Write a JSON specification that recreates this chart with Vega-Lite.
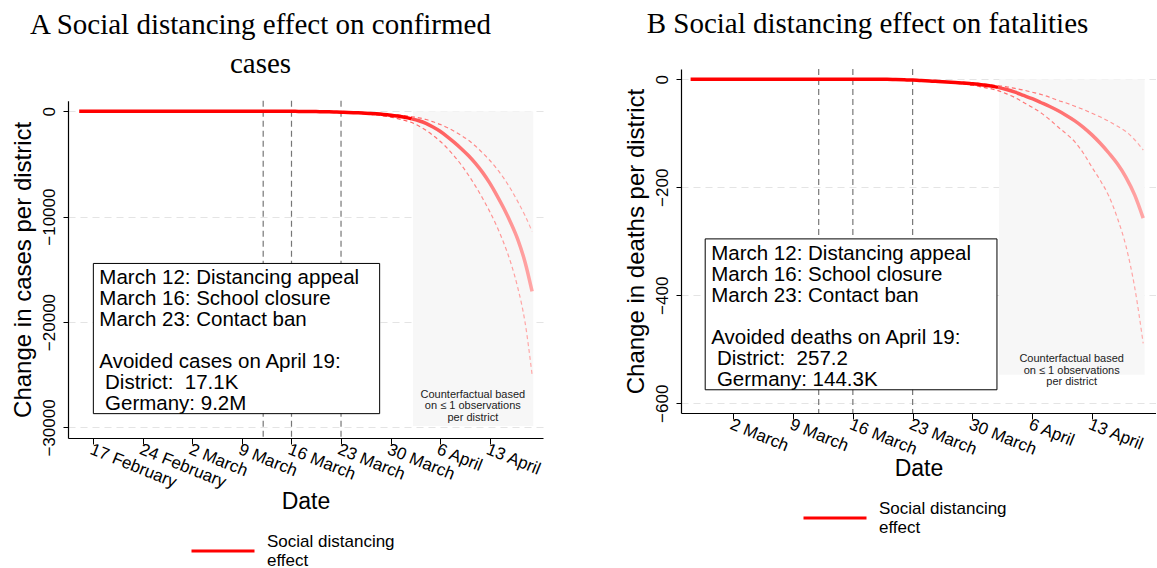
{
  "$schema": "https://vega.github.io/schema/vega-lite/v6.json",
  "background": "white",
  "padding": {"left": 10, "top": 9, "right": 0, "bottom": 0},
  "config": {
    "view": {"stroke": null},
    "font": "Liberation Sans",
    "title": {"font": "Liberation Serif", "fontSize": 29, "fontWeight": "normal", "color": "#000", "anchor": "middle", "frame": "group", "lineHeight": 39},
    "axis": {"domainColor": "#000", "tickColor": "#000", "labelColor": "#000", "titleColor": "#000", "labelFont": "Liberation Sans", "titleFont": "Liberation Sans", "titleFontWeight": "normal", "labelFlush": false, "labelOverlap": false, "labelBound": false, "domainWidth": 1.2, "tickWidth": 1}
  },
  "datasets": {
    "casesA": [
      {"date": "2020-02-15T00:00", "effect": 0},
      {"date": "2020-02-22T00:00", "effect": 0},
      {"date": "2020-02-29T00:00", "effect": 0},
      {"date": "2020-03-07T00:00", "effect": 0},
      {"date": "2020-03-14T00:00", "effect": 0},
      {"date": "2020-03-15T00:00", "effect": -5},
      {"date": "2020-03-16T00:00", "effect": -10},
      {"date": "2020-03-17T00:00", "effect": -15},
      {"date": "2020-03-18T00:00", "effect": -20},
      {"date": "2020-03-19T00:00", "effect": -30},
      {"date": "2020-03-20T00:00", "effect": -40},
      {"date": "2020-03-21T00:00", "effect": -55},
      {"date": "2020-03-22T00:00", "effect": -70},
      {"date": "2020-03-23T00:00", "effect": -90},
      {"date": "2020-03-24T00:00", "effect": -110, "upper": -95, "lower": -130},
      {"date": "2020-03-25T00:00", "effect": -140, "upper": -120, "lower": -170},
      {"date": "2020-03-26T00:00", "effect": -170, "upper": -145, "lower": -220},
      {"date": "2020-03-27T00:00", "effect": -205, "upper": -175, "lower": -280},
      {"date": "2020-03-28T00:00", "effect": -245, "upper": -210, "lower": -350},
      {"date": "2020-03-29T00:00", "effect": -300, "upper": -250, "lower": -440},
      {"date": "2020-03-30T00:00", "effect": -370, "upper": -300, "lower": -560},
      {"date": "2020-03-31T00:00", "effect": -460, "upper": -360, "lower": -700},
      {"date": "2020-04-01T00:00", "effect": -570, "upper": -430, "lower": -870},
      {"date": "2020-04-02T00:00", "effect": -720, "upper": -520, "lower": -1070},
      {"date": "2020-04-03T00:00", "effect": -900, "upper": -630, "lower": -1400},
      {"date": "2020-04-04T00:00", "effect": -1150, "upper": -780, "lower": -1800},
      {"date": "2020-04-05T00:00", "effect": -1500, "upper": -1000, "lower": -2300},
      {"date": "2020-04-06T00:00", "effect": -1900, "upper": -1250, "lower": -2850},
      {"date": "2020-04-07T00:00", "effect": -2400, "upper": -1550, "lower": -3500},
      {"date": "2020-04-08T00:00", "effect": -2950, "upper": -1900, "lower": -4250},
      {"date": "2020-04-09T00:00", "effect": -3550, "upper": -2300, "lower": -5100},
      {"date": "2020-04-10T00:00", "effect": -4200, "upper": -2750, "lower": -6050},
      {"date": "2020-04-11T00:00", "effect": -4950, "upper": -3300, "lower": -7100},
      {"date": "2020-04-12T00:00", "effect": -5800, "upper": -3950, "lower": -8250},
      {"date": "2020-04-13T00:00", "effect": -6800, "upper": -4650, "lower": -9500},
      {"date": "2020-04-14T00:00", "effect": -7950, "upper": -5450, "lower": -10900},
      {"date": "2020-04-15T00:00", "effect": -9200, "upper": -6350, "lower": -12500},
      {"date": "2020-04-16T00:00", "effect": -10600, "upper": -7400, "lower": -14400},
      {"date": "2020-04-17T00:00", "effect": -12200, "upper": -8600, "lower": -16800},
      {"date": "2020-04-18T00:00", "effect": -14300, "upper": -9900, "lower": -20000},
      {"date": "2020-04-19T00:00", "effect": -17100, "upper": -11400, "lower": -25000}
    ],
    "deathsB": [
      {"date": "2020-02-26T00:00", "effect": 0},
      {"date": "2020-03-04T00:00", "effect": 0},
      {"date": "2020-03-11T00:00", "effect": 0},
      {"date": "2020-03-18T00:00", "effect": 0},
      {"date": "2020-03-19T00:00", "effect": 0},
      {"date": "2020-03-20T00:00", "effect": 0},
      {"date": "2020-03-21T00:00", "effect": -0.5},
      {"date": "2020-03-22T00:00", "effect": -1},
      {"date": "2020-03-23T00:00", "effect": -1.5},
      {"date": "2020-03-24T00:00", "effect": -2.5, "upper": -2, "lower": -3},
      {"date": "2020-03-25T00:00", "effect": -3, "upper": -2.5, "lower": -4},
      {"date": "2020-03-26T00:00", "effect": -4, "upper": -3, "lower": -5},
      {"date": "2020-03-27T00:00", "effect": -5, "upper": -4, "lower": -6},
      {"date": "2020-03-28T00:00", "effect": -6, "upper": -5, "lower": -7},
      {"date": "2020-03-29T00:00", "effect": -7, "upper": -6, "lower": -9},
      {"date": "2020-03-30T00:00", "effect": -8.5, "upper": -7, "lower": -11},
      {"date": "2020-03-31T00:00", "effect": -10, "upper": -8.5, "lower": -14},
      {"date": "2020-04-01T00:00", "effect": -12, "upper": -10, "lower": -17},
      {"date": "2020-04-02T00:00", "effect": -15, "upper": -12, "lower": -21},
      {"date": "2020-04-03T00:00", "effect": -19, "upper": -14, "lower": -27},
      {"date": "2020-04-04T00:00", "effect": -24, "upper": -17, "lower": -34},
      {"date": "2020-04-05T00:00", "effect": -30, "upper": -20, "lower": -43},
      {"date": "2020-04-06T00:00", "effect": -36, "upper": -24, "lower": -52},
      {"date": "2020-04-07T00:00", "effect": -43, "upper": -28, "lower": -62},
      {"date": "2020-04-08T00:00", "effect": -50, "upper": -33, "lower": -74},
      {"date": "2020-04-09T00:00", "effect": -58, "upper": -39, "lower": -88},
      {"date": "2020-04-10T00:00", "effect": -67, "upper": -44, "lower": -101},
      {"date": "2020-04-11T00:00", "effect": -77, "upper": -50, "lower": -116},
      {"date": "2020-04-12T00:00", "effect": -89, "upper": -56, "lower": -137},
      {"date": "2020-04-13T00:00", "effect": -103, "upper": -63, "lower": -163},
      {"date": "2020-04-14T00:00", "effect": -119, "upper": -70, "lower": -188},
      {"date": "2020-04-15T00:00", "effect": -137, "upper": -78, "lower": -217},
      {"date": "2020-04-16T00:00", "effect": -157, "upper": -87, "lower": -258},
      {"date": "2020-04-17T00:00", "effect": -182, "upper": -97, "lower": -310},
      {"date": "2020-04-18T00:00", "effect": -214, "upper": -112, "lower": -385},
      {"date": "2020-04-19T00:00", "effect": -257.2, "upper": -131, "lower": -489}
    ]
  },
  "hconcat": [
    {
      "width": 475,
      "height": 369,
      "title": {"text": ["A Social distancing effect on confirmed", "cases"], "dx": -45, "offset": -10.1},
      "layer": [
        {
          "data": {"values": [{"d1": "2020-04-02T04:00", "d2": "2020-04-19T04:00", "v1": 0, "v2": -29850}]},
          "mark": {"type": "rect", "color": "#f7f7f7"},
          "encoding": {
            "x": {"field": "d1", "type": "temporal",
              "scale": {"domain": [{"year": 2020, "month": 2, "date": 13, "hours": 10}, {"year": 2020, "month": 4, "date": 20, "hours": 13}]},
              "axis": {"title": "Date", "values": [{"year": 2020, "month": 2, "date": 17}, {"year": 2020, "month": 2, "date": 24}, {"year": 2020, "month": 3, "date": 2}, {"year": 2020, "month": 3, "date": 9}, {"year": 2020, "month": 3, "date": 16}, {"year": 2020, "month": 3, "date": 23}, {"year": 2020, "month": 3, "date": 30}, {"year": 2020, "month": 4, "date": 6}, {"year": 2020, "month": 4, "date": 13}],
                "format": "%-d %B", "labelAngle": 22, "labelAlign": "left", "labelBaseline": "top", "labelFontSize": 17, "labelPadding": -3, "tickSize": 6, "titleFontSize": 23, "titlePadding": 0, "grid": false}},
            "x2": {"field": "d2"},
            "y": {"field": "v1", "type": "quantitative",
              "scale": {"domain": [-31000, 1000], "range": [369, 31.7], "nice": false, "zero": false},
              "axis": {"title": "Change in cases per district", "values": [0, -10000, -20000, -30000], "format": "d", "labelAngle": 270, "labelAlign": "center", "labelBaseline": "bottom", "labelFontSize": 17, "labelPadding": 5, "tickSize": 5, "titleFontSize": 24, "titlePadding": 5, "grid": true, "gridDash": [7, 5], "gridColor": "#e4e4e4", "gridWidth": 1.2}},
            "y2": {"field": "v2"}
          }
        },
        {
          "data": {"values": [{"d": "2020-03-12T00:00"}, {"d": "2020-03-16T00:00"}, {"d": "2020-03-23T00:00"}]},
          "mark": {"type": "rule", "color": "#777777", "strokeDash": [6, 4], "strokeWidth": 1.2},
          "encoding": {"x": {"field": "d", "type": "temporal"}, "y": {"datum": 1000, "type": "quantitative"}, "y2": {"datum": -31000}}
        },
        {
          "data": {"name": "casesA"},
          "transform": [{"filter": "isValid(datum.upper)"}],
          "mark": {"type": "line", "strokeDash": [4, 3], "strokeWidth": 1.2, "interpolate": "monotone",
            "stroke": {"gradient": "linear", "x1": 0, "y1": 0, "x2": 1, "y2": 0, "stops": [{"offset": 0, "color": "#ff2a2a"}, {"offset": 0.4, "color": "#ff6e6e"}, {"offset": 1, "color": "#ffaaaa"}]}},
          "encoding": {"x": {"field": "date", "type": "temporal"}, "y": {"field": "upper", "type": "quantitative"}}
        },
        {
          "data": {"name": "casesA"},
          "transform": [{"filter": "isValid(datum.lower)"}],
          "mark": {"type": "line", "strokeDash": [4, 3], "strokeWidth": 1.2, "interpolate": "monotone",
            "stroke": {"gradient": "linear", "x1": 0, "y1": 0, "x2": 1, "y2": 0, "stops": [{"offset": 0, "color": "#ff2a2a"}, {"offset": 0.4, "color": "#ff6e6e"}, {"offset": 1, "color": "#ffaaaa"}]}},
          "encoding": {"x": {"field": "date", "type": "temporal"}, "y": {"field": "lower", "type": "quantitative"}}
        },
        {
          "data": {"name": "casesA"},
          "transform": [{"filter": "time(datum.date) <= time(datetime(2020, 3, 2))"}],
          "mark": {"type": "line", "strokeWidth": 3.5, "interpolate": "monotone"},
          "encoding": {
            "x": {"field": "date", "type": "temporal"},
            "y": {"field": "effect", "type": "quantitative"},
            "color": {"datum": "Social distancing effect", "scale": {"domain": ["Social distancing effect"], "range": ["#ff0000"]},
              "legend": {"title": null, "orient": "none", "legendX": 143, "legendY": 470, "symbolType": "M-3,0H3", "symbolSize": 441, "symbolStrokeWidth": 3, "labelFontSize": 17, "labelFont": "Liberation Sans", "labelColor": "#000", "labelExpr": "['Social distancing', 'effect']", "labelOffset": 32, "labelBaseline": "bottom", "padding": 0}}
          }
        },
        {
          "data": {"name": "casesA"},
          "transform": [{"filter": "time(datum.date) >= time(datetime(2020, 3, 2))"}],
          "mark": {"type": "line", "strokeWidth": 3.5, "interpolate": "monotone",
            "stroke": {"gradient": "linear", "x1": 0, "y1": 0, "x2": 1, "y2": 0, "stops": [{"offset": 0, "color": "#ff4a4a"}, {"offset": 1, "color": "#ffa6a6"}]}},
          "encoding": {"x": {"field": "date", "type": "temporal"}, "y": {"field": "effect", "type": "quantitative"}}
        },
        {
          "data": {"values": [{"d1": "2020-02-17T00:00", "d2": "2020-03-28T11:00", "v1": -14440, "v2": -28690}]},
          "mark": {"type": "rect", "fill": "#ffffff", "stroke": "#000000", "strokeWidth": 1},
          "encoding": {"x": {"field": "d1", "type": "temporal"}, "x2": {"field": "d2"}, "y": {"field": "v1", "type": "quantitative"}, "y2": {"field": "v2"}}
        },
        {
          "data": {"values": [{"d": "2020-02-17T00:00", "v": -14440, "txt": "March 12: Distancing appeal\nMarch 16: School closure\nMarch 23: Contact ban\n\u200b\nAvoided cases on April 19:\n\u200b\u00a0District:\u00a0\u00a017.1K\n\u200b\u00a0Germany:\u00a09.2M"}]},
          "mark": {"type": "text", "lineBreak": "\n", "align": "left", "baseline": "top", "dx": 6, "dy": 5, "fontSize": 20.5, "lineHeight": 21, "font": "Liberation Sans", "color": "#000"},
          "encoding": {"x": {"field": "d", "type": "temporal"}, "y": {"field": "v", "type": "quantitative"}, "text": {"field": "txt"}}
        },
        {
          "data": {"values": [{"d": "2020-04-10T15:00", "v": -26350, "txt": "Counterfactual based\non ≤ 1 observations\nper district"}]},
          "mark": {"type": "text", "lineBreak": "\n", "align": "center", "baseline": "top", "fontSize": 11, "lineHeight": 11.5, "font": "Liberation Sans", "color": "#222"},
          "encoding": {"x": {"field": "d", "type": "temporal"}, "y": {"field": "v", "type": "quantitative"}, "text": {"field": "txt"}}
        }
      ]
    },
    {
      "width": 475,
      "height": 344,
      "title": {"text": "B Social distancing effect on fatalities", "dx": -51, "offset": 29.6},
      "layer": [
        {
          "data": {"values": [{"d1": "2020-04-02T03:00", "d2": "2020-04-19T04:00", "v1": 0, "v2": -547}]},
          "mark": {"type": "rect", "color": "#f7f7f7"},
          "encoding": {
            "x": {"field": "d1", "type": "temporal",
              "scale": {"domain": [{"year": 2020, "month": 2, "date": 24, "hours": 21}, {"year": 2020, "month": 4, "date": 20, "hours": 12}]},
              "axis": {"title": "Date", "values": [{"year": 2020, "month": 3, "date": 2}, {"year": 2020, "month": 3, "date": 9}, {"year": 2020, "month": 3, "date": 16}, {"year": 2020, "month": 3, "date": 23}, {"year": 2020, "month": 3, "date": 30}, {"year": 2020, "month": 4, "date": 6}, {"year": 2020, "month": 4, "date": 13}],
                "format": "%-d %B", "labelAngle": 22, "labelAlign": "left", "labelBaseline": "top", "labelFontSize": 17, "labelPadding": -3, "tickSize": 6, "titleFontSize": 23, "titlePadding": 0, "grid": false}},
            "x2": {"field": "d2"},
            "y": {"field": "v1", "type": "quantitative",
              "scale": {"domain": [-618, 19], "nice": false, "zero": false},
              "axis": {"title": "Change in deaths per district", "values": [0, -200, -400, -600], "format": "d", "labelAngle": 270, "labelAlign": "center", "labelBaseline": "bottom", "labelFontSize": 17, "labelPadding": 5, "tickSize": 5, "titleFontSize": 24, "titlePadding": 5, "grid": true, "gridDash": [7, 5], "gridColor": "#e4e4e4", "gridWidth": 1.2}},
            "y2": {"field": "v2"}
          }
        },
        {
          "data": {"values": [{"d": "2020-03-12T00:00"}, {"d": "2020-03-16T00:00"}, {"d": "2020-03-23T00:00"}]},
          "mark": {"type": "rule", "color": "#777777", "strokeDash": [6, 4], "strokeWidth": 1.2},
          "encoding": {"x": {"field": "d", "type": "temporal"}}
        },
        {
          "data": {"name": "deathsB"},
          "transform": [{"filter": "isValid(datum.upper)"}],
          "mark": {"type": "line", "strokeDash": [4, 3], "strokeWidth": 1.2, "interpolate": "monotone",
            "stroke": {"gradient": "linear", "x1": 0, "y1": 0, "x2": 1, "y2": 0, "stops": [{"offset": 0, "color": "#ff2a2a"}, {"offset": 0.4, "color": "#ff6e6e"}, {"offset": 1, "color": "#ffaaaa"}]}},
          "encoding": {"x": {"field": "date", "type": "temporal"}, "y": {"field": "upper", "type": "quantitative"}}
        },
        {
          "data": {"name": "deathsB"},
          "transform": [{"filter": "isValid(datum.lower)"}],
          "mark": {"type": "line", "strokeDash": [4, 3], "strokeWidth": 1.2, "interpolate": "monotone",
            "stroke": {"gradient": "linear", "x1": 0, "y1": 0, "x2": 1, "y2": 0, "stops": [{"offset": 0, "color": "#ff2a2a"}, {"offset": 0.4, "color": "#ff6e6e"}, {"offset": 1, "color": "#ffaaaa"}]}},
          "encoding": {"x": {"field": "date", "type": "temporal"}, "y": {"field": "lower", "type": "quantitative"}}
        },
        {
          "data": {"name": "deathsB"},
          "transform": [{"filter": "time(datum.date) <= time(datetime(2020, 3, 2))"}],
          "mark": {"type": "line", "strokeWidth": 3.5, "interpolate": "monotone"},
          "encoding": {
            "x": {"field": "date", "type": "temporal"},
            "y": {"field": "effect", "type": "quantitative"},
            "color": {"datum": "Social distancing effect", "scale": {"domain": ["Social distancing effect"], "range": ["#ff0000"]},
              "legend": {"title": null, "orient": "none", "legendX": 142, "legendY": 437, "symbolType": "M-3,0H3", "symbolSize": 441, "symbolStrokeWidth": 3, "labelFontSize": 17, "labelFont": "Liberation Sans", "labelColor": "#000", "labelExpr": "['Social distancing', 'effect']", "labelOffset": 32, "labelBaseline": "bottom", "padding": 0}}
          }
        },
        {
          "data": {"name": "deathsB"},
          "transform": [{"filter": "time(datum.date) >= time(datetime(2020, 3, 2))"}],
          "mark": {"type": "line", "strokeWidth": 3.5, "interpolate": "monotone",
            "stroke": {"gradient": "linear", "x1": 0, "y1": 0, "x2": 1, "y2": 0, "stops": [{"offset": 0, "color": "#ff4a4a"}, {"offset": 1, "color": "#ffa6a6"}]}},
          "encoding": {"x": {"field": "date", "type": "temporal"}, "y": {"field": "effect", "type": "quantitative"}}
        },
        {
          "data": {"values": [{"d1": "2020-02-27T17:00", "d2": "2020-04-01T21:00", "v1": -295.6, "v2": -575}]},
          "mark": {"type": "rect", "fill": "#ffffff", "stroke": "#000000", "strokeWidth": 1},
          "encoding": {"x": {"field": "d1", "type": "temporal"}, "x2": {"field": "d2"}, "y": {"field": "v1", "type": "quantitative"}, "y2": {"field": "v2"}}
        },
        {
          "data": {"values": [{"d": "2020-02-27T17:00", "v": -295.6, "txt": "March 12: Distancing appeal\nMarch 16: School closure\nMarch 23: Contact ban\n\u200b\nAvoided deaths on April 19:\n\u200b\u00a0District:\u00a0\u00a0257.2\n\u200b\u00a0Germany:\u00a0144.3K"}]},
          "mark": {"type": "text", "lineBreak": "\n", "align": "left", "baseline": "top", "dx": 6, "dy": 5, "fontSize": 20.5, "lineHeight": 21, "font": "Liberation Sans", "color": "#000"},
          "encoding": {"x": {"field": "d", "type": "temporal"}, "y": {"field": "v", "type": "quantitative"}, "text": {"field": "txt"}}
        },
        {
          "data": {"values": [{"d": "2020-04-10T15:00", "v": -507, "txt": "Counterfactual based\non ≤ 1 observations\nper district"}]},
          "mark": {"type": "text", "lineBreak": "\n", "align": "center", "baseline": "top", "fontSize": 11, "lineHeight": 11.5, "font": "Liberation Sans", "color": "#222"},
          "encoding": {"x": {"field": "d", "type": "temporal"}, "y": {"field": "v", "type": "quantitative"}, "text": {"field": "txt"}}
        }
      ]
    }
  ],
  "spacing": 79,
  "resolve": {"scale": {"color": "independent"}}
}
